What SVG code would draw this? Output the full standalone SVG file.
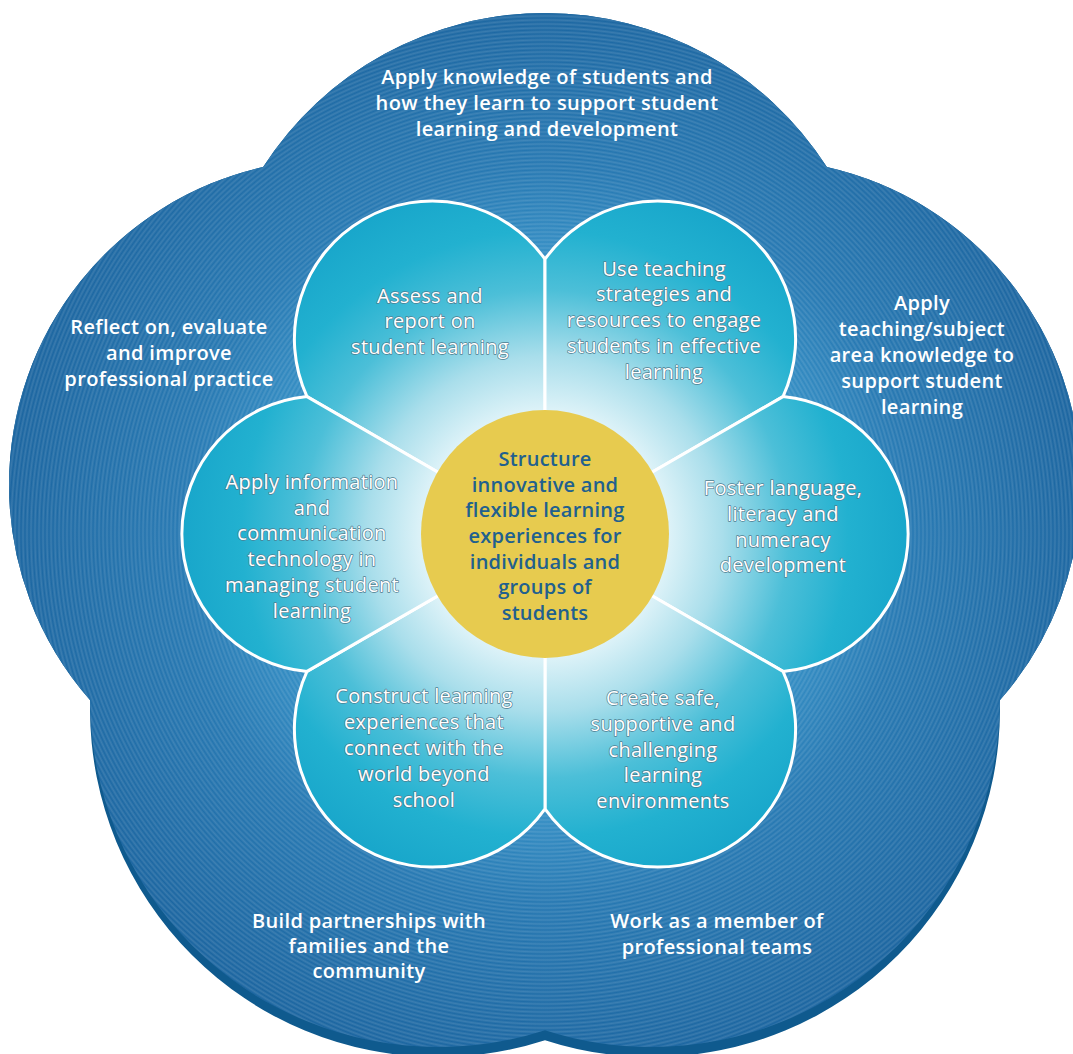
<svg xmlns="http://www.w3.org/2000/svg" width="1073" height="1054" viewBox="0 0 1073 1054">
<style>
.outer{font-family:"Open Sans","Noto Sans","Liberation Sans",sans-serif;font-size:20px;font-weight:600;fill:#ffffff;text-anchor:middle;letter-spacing:0.35px}
.pet{font-family:"Open Sans","Noto Sans","Liberation Sans",sans-serif;font-size:20px;font-weight:400;fill:#ffffff;text-anchor:middle;stroke:#4f7d90;stroke-width:1.4px;paint-order:stroke;stroke-linejoin:round;letter-spacing:0.3px}
.ctr{font-family:"Open Sans","Noto Sans","Liberation Sans",sans-serif;font-size:20px;font-weight:600;fill:#21608e;text-anchor:middle;letter-spacing:0.25px}
.petal{fill:url(#petalGrad);stroke:#ffffff;stroke-width:3;stroke-linejoin:round}
</style>
<defs>
<radialGradient id="baseGrad" gradientUnits="userSpaceOnUse" cx="545" cy="534" r="540">
<stop offset="0" stop-color="#5ab2dc"/>
<stop offset="0.5" stop-color="#3590c6"/>
<stop offset="0.68" stop-color="#2678b2"/>
<stop offset="1" stop-color="#1b65a0"/>
</radialGradient>
<radialGradient id="rings" gradientUnits="userSpaceOnUse" cx="545" cy="534" r="4" spreadMethod="repeat">
<stop offset="0" stop-color="#ffffff" stop-opacity="0"/>
<stop offset="0.5" stop-color="#ffffff" stop-opacity="0.13"/>
<stop offset="1" stop-color="#ffffff" stop-opacity="0"/>
</radialGradient>
<radialGradient id="petalGrad" gradientUnits="userSpaceOnUse" cx="545" cy="534" r="370">
<stop offset="0" stop-color="#ffffff"/>
<stop offset="0.3" stop-color="#e9f7fb"/>
<stop offset="0.48" stop-color="#a9deeb"/>
<stop offset="0.66" stop-color="#4cbfd8"/>
<stop offset="0.82" stop-color="#22b1d0"/>
<stop offset="1" stop-color="#17a5ca"/>
</radialGradient>
<clipPath id="rimClip">
<circle cx="545" cy="348" r="335"/>
<circle cx="335" cy="485" r="326"/>
<circle cx="755" cy="485" r="326"/>
<circle cx="438" cy="709" r="348"/>
<circle cx="652" cy="709" r="348"/>
</clipPath>
<clipPath id="faceClip">
<circle cx="545" cy="348" r="335"/>
<circle cx="335" cy="485" r="326"/>
<circle cx="755" cy="485" r="326"/>
<circle cx="438" cy="699" r="348"/>
<circle cx="652" cy="699" r="348"/>
</clipPath>
</defs>
<rect width="1073" height="1054" fill="#ffffff"/>
<g id="outer-ring">
<rect width="1073" height="1054" fill="#0f5a8e" clip-path="url(#rimClip)"/>
<rect width="1073" height="1054" fill="url(#baseGrad)" clip-path="url(#faceClip)"/>
<rect width="1073" height="1054" fill="url(#rings)" clip-path="url(#faceClip)"/>
</g>
<g id="label-knowledge">
<text class="outer" x="547" y="84">Apply knowledge of students and</text>
<text class="outer" x="547" y="110">how they learn to support student</text>
<text class="outer" x="547" y="136">learning and development</text>
</g>
<g id="label-reflect">
<text class="outer" x="169" y="334">Reflect on, evaluate</text>
<text class="outer" x="169" y="360">and improve</text>
<text class="outer" x="169" y="386">professional practice</text>
</g>
<g id="label-subject">
<text class="outer" x="922" y="310">Apply</text>
<text class="outer" x="922" y="336">teaching/subject</text>
<text class="outer" x="922" y="362">area knowledge to</text>
<text class="outer" x="922" y="388">support student</text>
<text class="outer" x="922" y="414">learning</text>
</g>
<g id="label-partnerships">
<text class="outer" x="369" y="928">Build partnerships with</text>
<text class="outer" x="369" y="953">families and the</text>
<text class="outer" x="369" y="978">community</text>
</g>
<g id="label-teams">
<text class="outer" x="717" y="928">Work as a member of</text>
<text class="outer" x="717" y="954">professional teams</text>
</g>
<g id="petal-assess">
<path class="petal" d="M307,396.6 A138,138 0 0 1 545,259.2 L545,534 Z"/>
<text class="pet" x="430" y="303">Assess and</text>
<text class="pet" x="430" y="328">report on</text>
<text class="pet" x="430" y="354">student learning</text>
</g>
<g id="petal-strategies">
<path class="petal" d="M545,259.2 A138,138 0 0 1 783,396.6 L545,534 Z"/>
<text class="pet" x="664" y="276">Use teaching</text>
<text class="pet" x="664" y="301">strategies and</text>
<text class="pet" x="664" y="327">resources to engage</text>
<text class="pet" x="664" y="353">students in effective</text>
<text class="pet" x="664" y="379">learning</text>
</g>
<g id="petal-language">
<path class="petal" d="M783,396.6 A138,138 0 0 1 783,671.4 L545,534 Z"/>
<text class="pet" x="783" y="495">Foster language,</text>
<text class="pet" x="783" y="521">literacy and</text>
<text class="pet" x="783" y="547">numeracy</text>
<text class="pet" x="783" y="572">development</text>
</g>
<g id="petal-environments">
<path class="petal" d="M783,671.4 A138,138 0 0 1 545,808.8 L545,534 Z"/>
<text class="pet" x="663" y="705">Create safe,</text>
<text class="pet" x="663" y="731">supportive and</text>
<text class="pet" x="663" y="757">challenging</text>
<text class="pet" x="663" y="782">learning</text>
<text class="pet" x="663" y="808">environments</text>
</g>
<g id="petal-construct">
<path class="petal" d="M545,808.8 A138,138 0 0 1 307,671.4 L545,534 Z"/>
<text class="pet" x="424" y="703">Construct learning</text>
<text class="pet" x="424" y="729">experiences that</text>
<text class="pet" x="424" y="755">connect with the</text>
<text class="pet" x="424" y="781">world beyond</text>
<text class="pet" x="424" y="807">school</text>
</g>
<g id="petal-ict">
<path class="petal" d="M307,671.4 A138,138 0 0 1 307,396.6 L545,534 Z"/>
<text class="pet" x="312" y="489">Apply information</text>
<text class="pet" x="312" y="515">and</text>
<text class="pet" x="312" y="540">communication</text>
<text class="pet" x="312" y="566">technology in</text>
<text class="pet" x="312" y="592">managing student</text>
<text class="pet" x="312" y="618">learning</text>
</g>
<g id="center-structure">
<circle cx="545" cy="534" r="124" fill="#e7cb4f"/>
<text class="ctr" x="545" y="466">Structure</text>
<text class="ctr" x="545" y="492">innovative and</text>
<text class="ctr" x="545" y="517">flexible learning</text>
<text class="ctr" x="545" y="543">experiences for</text>
<text class="ctr" x="545" y="569">individuals and</text>
<text class="ctr" x="545" y="594">groups of</text>
<text class="ctr" x="545" y="620">students</text>
</g>
<g id="connectors"></g>
</svg>
